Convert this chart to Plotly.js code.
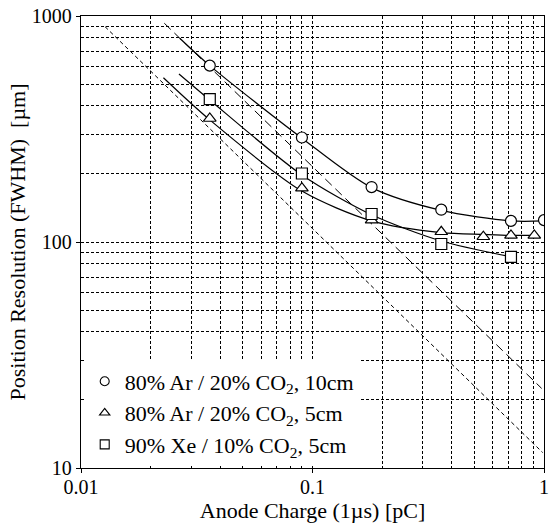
<!DOCTYPE html>
<html>
<head>
<meta charset="utf-8">
<script src="https://cdn.plot.ly/plotly-3.0.1.min.js"></script>
<style>
  html, body { margin: 0; padding: 0; background: #fff; }
  #chart { width: 552px; height: 527px; }
</style>
</head>
<body>
<div id="chart"></div>
<script>
// ---- Data ----
const seriesNames = [
  "80% Ar / 20% CO<sub>2</sub>, 10cm",
  "80% Ar / 20% CO<sub>2</sub>, 5cm",
  "90% Xe / 10% CO<sub>2</sub>, 5cm"
];

// measured points (markers)
const arCharge10 = [0.036, 0.09, 0.18, 0.36, 0.72, 1.0];
const arRes10    = [603, 290, 175, 139, 124, 125];

const arCharge5  = [0.036, 0.09, 0.18, 0.36, 0.547, 0.72, 0.908];
const arRes5     = [352, 173, 125, 111, 105.5, 107, 107];

const xeCharge5  = [0.036, 0.09, 0.18, 0.36, 0.72];
const xeRes5     = [429, 201, 133, 98, 86];

// fitted curves (solid lines)
const fitAr10X = [0.0267, 0.036, 0.09, 0.18, 0.36, 0.72, 1.0];
const fitAr10Y = [797, 603, 288, 174, 138, 124, 124];

const fitAr5X  = [0.0227, 0.036, 0.09, 0.18, 0.36, 0.55, 0.72, 0.908];
const fitAr5Y  = [533, 347, 168, 124, 110, 108, 107, 107];

const fitXe5X  = [0.0265, 0.036, 0.09, 0.18, 0.36, 0.72];
const fitXe5Y  = [554, 425, 198, 132, 101, 86];

// reference dashed lines (1/Q dependence)
const longDashX  = [0.0229, 0.977];
const longDashY  = [929, 22.5];
const shortDashX = [0.0127, 0.987];
const shortDashY = [897, 11.7];

// axis ticks
const xMajor = [0.01, 0.1, 1];
const xMajorText = ["0.01", "0.1", "1"];
const xMinor = [0.02,0.03,0.04,0.05,0.06,0.07,0.08,0.09,0.2,0.3,0.4,0.5,0.6,0.7,0.8,0.9];
const yMajor = [10, 100, 1000];
const yMajorText = ["10", "100", "1000"];
const yMinor = [20,30,40,50,60,70,80,90,200,300,400,500,600,700,800,900];

// ---- Styling ----
const FONT = "Liberation Serif, Times New Roman, Times, serif";

function curve(x, y) {
  return { x: x, y: y, type: "scatter", mode: "lines", showlegend: false, hoverinfo: "skip",
           line: { color: "#000", width: 1.2, shape: "spline", smoothing: 0.8 } };
}
function dashed(x, y, dash) {
  return { x: x, y: y, type: "scatter", mode: "lines", showlegend: false, hoverinfo: "skip",
           line: { color: "#000", width: 1, dash: dash } };
}
function markers(x, y, sym) {
  return { x: x, y: y, type: "scatter", mode: "markers", showlegend: false,
           marker: { symbol: sym, size: 11, color: "#fff",
                     line: { color: "#000", width: 1.2 } } };
}
function legendEntry(name, sym) {
  return { x: [null], y: [null], type: "scatter", mode: "markers", name: name,
           marker: { symbol: sym, size: 9, color: "#fff",
                     line: { color: "#000", width: 1.1 } } };
}

const symbols = ["circle", "triangle-up", "square"];

const traces = [
  dashed(shortDashX, shortDashY, "4px,3px"),
  dashed(longDashX, longDashY, "9px,5px"),
  curve(fitAr10X, fitAr10Y),
  curve(fitAr5X, fitAr5Y),
  curve(fitXe5X, fitXe5Y),
  markers(arCharge10, arRes10, symbols[0]),
  markers(arCharge5, arRes5, symbols[1]),
  markers(xeCharge5, xeRes5, symbols[2]),
  legendEntry(seriesNames[0], symbols[0]),
  legendEntry(seriesNames[1], symbols[1]),
  legendEntry(seriesNames[2], symbols[2])
];

const gridStyle = { showgrid: true, gridcolor: "#000", gridwidth: 1, griddash: "3px,2px" };

const layout = {
  width: 552, height: 527,
  margin: { l: 81, r: 8, t: 16, b: 59, pad: 0 },
  paper_bgcolor: "#fff", plot_bgcolor: "#fff",
  font: { family: FONT, color: "#000", size: 20 },
  showlegend: true,
  legend: {
    x: 0.008, y: 0.238, xanchor: "left", yanchor: "top",
    bgcolor: "#fff", borderwidth: 0,
    font: { family: FONT, size: 22, color: "#000" },
    itemwidth: 30, tracegroupgap: 0
  },
  xaxis: {
    type: "log", range: [-2, 0],
    tickmode: "array", tickvals: xMajor, ticktext: xMajorText,
    ticks: "outside", ticklen: 4, tickcolor: "#000",
    ticklabelstandoff: -3,
    showline: true, linecolor: "#000", linewidth: 1.2, mirror: true,
    zeroline: false,
    ...gridStyle,
    minor: { tickmode: "array", tickvals: xMinor, ticks: "", ...gridStyle },
    tickfont: { family: FONT, size: 20, color: "#000" },
    title: { text: "Anode Charge (1µs) [pC]", font: { family: FONT, size: 22, color: "#000" }, standoff: 0 }
  },
  yaxis: {
    type: "log", range: [1, 3],
    tickmode: "array", tickvals: yMajor, ticktext: yMajorText,
    ticks: "outside", ticklen: 4, tickcolor: "#000",
    showline: true, linecolor: "#000", linewidth: 1.2, mirror: true,
    zeroline: false,
    ...gridStyle,
    minor: { tickmode: "array", tickvals: yMinor, ticks: "", ...gridStyle },
    tickfont: { family: FONT, size: 20, color: "#000" },
    title: { text: "Position Resolution (FWHM)  [µm]", font: { family: FONT, size: 22, color: "#000" }, standoff: 0 }
  }
};

Plotly.newPlot("chart", traces, layout, { staticPlot: true, displayModeBar: false });
</script>
</body>
</html>
